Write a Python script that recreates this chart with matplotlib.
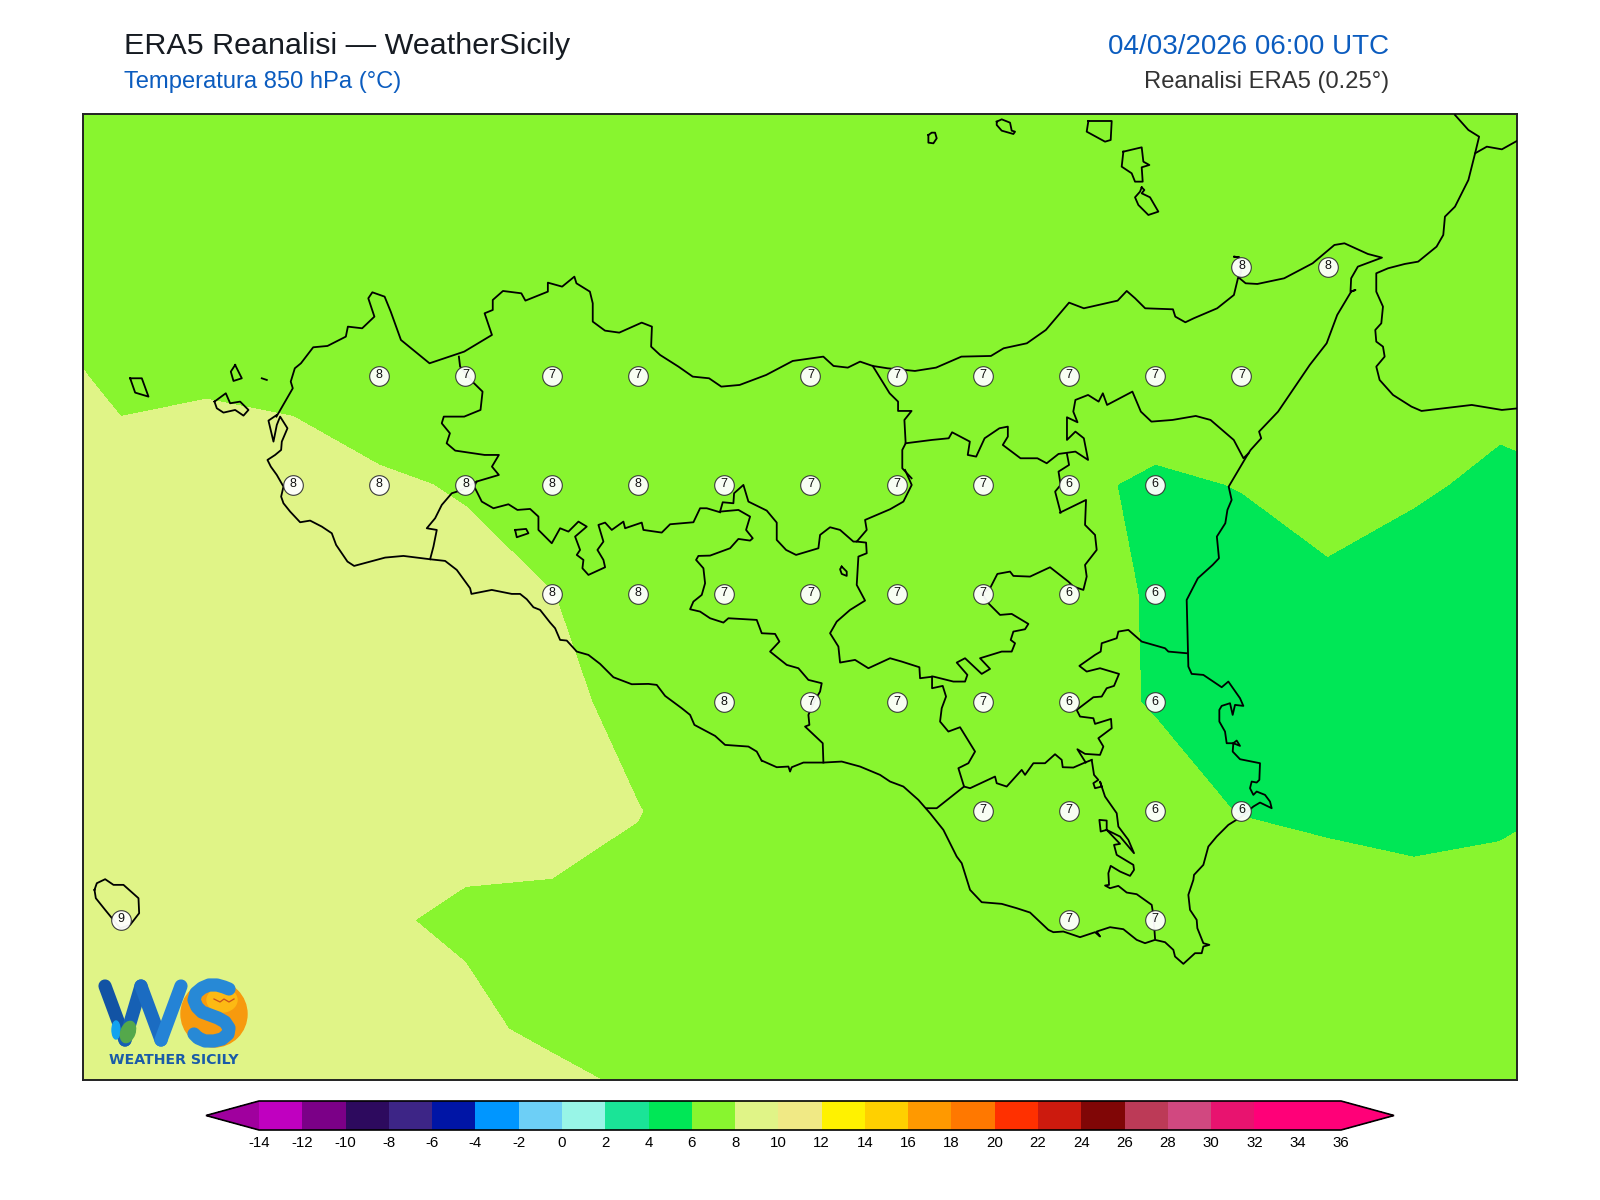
import numpy as np
import matplotlib
matplotlib.use("Agg")
import matplotlib.pyplot as plt
from matplotlib.colors import ListedColormap, BoundaryNorm
from matplotlib.patches import Circle, Ellipse

plt.rcParams['font.family'] = ['Liberation Sans', 'DejaVu Sans']

# ---------- temperature field, ERA5 0.25 degree grid ----------
grid_lon = [11.75, 12.0, 12.25, 12.5, 12.75, 13.0, 13.25, 13.5, 13.75, 14.0,
            14.25, 14.5, 14.75, 15.0, 15.25, 15.5, 15.75, 16.0, 16.25]
grid_lat = [38.75, 38.5, 38.25, 38.0, 37.75, 37.5, 37.25, 37.0, 36.75, 36.5, 36.25]
t_3875 = [7.7,7.7,7.7,7.6,7.6,7.6,7.5,7.5,7.5,7.5,7.4,7.4,7.4,7.4,7.3,7.3,7.2,7.2,7.1]
t_3850 = [7.8,7.7,7.6,7.6,7.5,7.5,7.5,7.5,7.4,7.4,7.4,7.4,7.4,7.4,7.4,7.3,7.2,7.1,7.0]
t_3825 = [7.9,7.7,7.6,7.6,7.5,7.4,7.4,7.4,7.4,7.4,7.4,7.4,7.4,7.5,7.55,7.5,7.2,7.0,6.9]
t_3800 = [8.29,7.82,7.9,7.85,7.7,7.4,7.3,7.2,7.1,7.0,7.0,6.9,6.9,6.6,6.6,6.8,6.8,6.1,6.1]
t_3775 = [8.4,8.3,8.365,8.25,8.065,7.96,7.6,7.55,7.4,7.2,7.1,6.8,6.175,5.86,6.03,6.25,6.04,5.94,5.995]
t_3750 = [8.6,8.6,8.6,8.5,8.4,8.16,8.01,7.7,7.45,7.2,7.0,6.7,6.2,5.95,5.6,5.87,5.85,5.8,5.8]
t_3725 = [8.6,8.6,8.6,8.6,8.5,8.4,8.3,7.66,7.55,7.2,7.1,6.8,6.3,5.94,5.7,5.75,5.7,5.7,5.7]
t_3700 = [8.7,8.7,8.7,8.6,8.5,8.32,8.32,8.03,7.5,7.3,7.0,6.9,6.8,6.37,5.96,5.85,5.7,5.9,6.07]
t_3675 = [8.7,8.6,8.5,8.3,8.1,7.856,7.8,7.7,7.5,7.3,7.2,7.1,6.9,6.6,6.8,6.45,6.41,6.26,6.2]
t_3650 = [8.8,8.7,8.6,8.5,8.4,8.225,7.775,7.7,7.6,7.5,7.4,7.3,7.2,7.1,7.0,6.9,6.8,6.7,6.6]
t_3625 = [8.9,8.9,8.9,8.9,8.9,8.9,8.8,8.16,7.9,7.7,7.6,7.5,7.4,7.3,7.2,7.1,7.0,6.9,6.8]

# ---------- rounded values printed at grid points (lon, lat, value) ----------
lab_3825 = [(15.25,8),(15.5,8)]
lab_3800 = [(12.75,8),(13.0,7),(13.25,7),(13.5,7),(14.0,7),(14.25,7),(14.5,7),(14.75,7),(15.0,7),(15.25,7)]
lab_3775 = [(12.5,8),(12.75,8),(13.0,8),(13.25,8),(13.5,8),(13.75,7),(14.0,7),(14.25,7),(14.5,7),(14.75,6),(15.0,6)]
lab_3750 = [(13.25,8),(13.5,8),(13.75,7),(14.0,7),(14.25,7),(14.5,7),(14.75,6),(15.0,6)]
lab_3725 = [(13.75,8),(14.0,7),(14.25,7),(14.5,7),(14.75,6),(15.0,6)]
lab_3700 = [(14.5,7),(14.75,7),(15.0,6),(15.25,6)]
lab_3675 = [(12.0,9),(14.75,7),(15.0,7)]

# ---------- colour scale ----------
levels = list(range(-14, 38, 2))
band_colors = ['#C000C0','#7B0087','#2D0A5E','#3D2586','#0015A6','#0096FF','#6DCFF6','#98F5E7',
               '#1AE497','#00E756','#88F52F','#E0F487','#F0E985','#FFF200','#FFD000','#FF9900',
               '#FF7800','#FF3000','#CC1A0E','#800606','#BC3A57','#D14880','#E8136F','#FF0078','#FF0078']
under_color = '#A0009E'
over_color = '#FF0078'

# ---------- digitised outlines: map sheet readings, georeferenced below ----------
def sheet(x0, y0, sx, sy, pts):
    a = np.array(pts, dtype=float)
    xo = x0 + a[:, 0] / sx
    yo = y0 + a[:, 1] / sy
    return np.column_stack([12.5 + (xo - 292.9) / 86.23 * 0.25,
                            37.75 - (yo - 484.7) / 108.9 * 0.25])

S3 = (260, 260, 2.45, 3)
S4 = (860, 230, 2.368, 3)
S5 = (260, 480, 3, 3)
S6 = (660, 470, 3, 3)
S7 = (920, 600, 3, 3)
S8 = (1120, 110, 2.985, 3)
S9 = (900, 110, 3, 3)
S10 = (80, 350, 3, 3)
S11 = (85, 860, 3, 3)

coast = np.vstack([
    sheet(*S10, [(590,195),(565,212),(580,275),(590,225),(600,200),(622,235),(605,275),(603,300),
                 (585,315),(562,330),(572,350),(590,375),(610,410),(603,440)]),
    sheet(*S5, [(70,70),(90,95),(120,127),(150,122),(185,140),(215,160),(228,195),(262,245),(282,258),
                (375,233),(430,228),(510,238),(555,243),(590,270),(630,325),(634,342),(660,337),(695,330),
                (755,342),(780,342),(800,358),(820,382),(840,390),(870,428),(885,445),(900,480),(920,482),
                (950,515),(985,525),(1020,552),(1060,592),(1115,613),(1165,612),(1190,615),(1215,648),
                (1265,685),(1290,705),(1303,735),(1365,768),(1395,795),(1465,800),(1490,815),(1505,843)]),
    sheet(*S6, [(305,872),(350,892),(385,890),(390,905),(395,892),(430,878),(490,878),(545,875),(600,890),
                (660,915),(690,935),(730,950),(775,990)]),
    sheet(*S7, [(30,640),(70,690),(110,770),(125,790),(150,870),(185,907),(245,912),(290,925),(330,938),
                (385,990),(400,997),(430,995),(480,1012),(525,997),(540,1010),(530,995),(570,982),(610,988),
                (650,1020),(675,1030),(705,1020),(735,1027),(760,1050),(765,1070),(790,1092),(825,1060),
                (845,1060),(850,1040),(868,1035),(850,1030),(832,985),(830,960),(810,930),(805,885),(820,840),
                (822,825),(850,795),(865,740),(890,710),(925,675),(965,650),(1000,620),(1020,608),(1055,625),
                (1050,605),(1035,585),(1010,575),(1000,585),(990,565),(995,545),(1010,548),(1018,540),(1020,490),
                (985,483),(960,478),(938,455),(940,430),(950,422),(960,438),(940,430),(920,430),(915,395),
                (898,365),(898,330),(905,318),(930,310),(938,345),(945,315),(970,318),(960,295),(925,245),
                (905,262),(880,245),(850,225),(815,222),(805,200),(800,0)]),
    sheet(*S4, [(800,1045),(835,1005),(850,985),(845,920),(865,880),(870,840),(880,810),(873,770),(915,680),
                (925,660),(950,625),(945,605),(990,545),(1065,405),(1105,340),(1130,255)]),
    sheet(*S8, [(690,545),(703,540),(688,545),(690,505),(710,470),(782,443),(740,432),(670,400),
                (640,405),(575,460),(490,505),(410,522),(375,520),(357,505),(362,480),(355,442),(340,440),
                (355,442),(362,480),(352,505),(340,555),(290,595),(220,625),(195,637),(165,620),(158,598),
                (75,595),(45,565),(20,543)]),
    sheet(*S4, [(610,212),(530,235),(495,218),(440,300),(395,340),(340,355),(310,378),(240,380),(180,413),
                (130,423),(65,415),(30,408)]),
    sheet(*S3, [(1470,305),(1440,323),(1405,318),(1380,290),(1305,303),(1240,345),(1175,375),(1130,380),
                (1100,355),(1060,350),(1025,320),(980,285),(958,260),(960,200),(935,188),(880,218),(845,212),
                (815,185),(815,130),(808,95),(775,70),(770,50),(740,80),(705,68),(705,95),(650,122),(640,100),
                (595,93),(570,120),(570,150),(550,160),(568,225),(500,275),(415,310),(395,290),(345,240),
                (320,155),(305,110),(275,97),(265,115),(280,170),(250,205),(215,200),(210,230),(165,258),
                (130,262),(100,310),(85,325),(75,365),(80,385),(40,470)]),
])

borders = [
    # Trapani - Palermo
    sheet(*S3, [(487,290),(490,320),(520,365),(545,395),(540,450),(500,470),(450,470),(445,490),(465,520),
                (457,550),(478,572),(550,585),(585,585),(568,620),(585,645),(530,665),(525,680)]),
    # Trapani - Agrigento
    sheet(*S5, [(650,5),(600,32),(575,40),(545,75),(525,115),(500,145),(530,150),(520,200),(510,238)]),
    # Palermo - Agrigento
    sheet(*S5, [(645,25),(665,65),(700,85),(745,73),(772,90),(810,87),(835,110),(835,150),(875,190),(900,145),
                (925,155),(955,125),(980,140),(945,170),(960,210),(950,225),(970,240),(967,265),(985,285),
                (1035,262),(1030,240),(1012,210),(1030,185),(1015,135),(1035,128),(1055,150),(1090,125),
                (1095,145),(1145,128),(1150,150),(1205,158),(1230,133),(1300,127),(1320,85),(1340,85),(1380,97)]),
    # Agrigento - Caltanissetta
    sheet(*S6, [(180,125),(235,120),(270,140),(258,180),(278,205),(270,212),(235,207),(210,235),(150,257),
                (115,258),(108,270),(130,295),(135,340),(125,375),(100,395),(90,418),(120,425),(150,445),
                (190,458),(205,445),(290,450),(305,490),(345,492),(358,515),(330,545),(380,585),(415,595),
                (445,630),(485,640),(480,665),(465,690),(445,735),(448,765),(435,770),(488,820),(490,878)]),
    sheet(*S6, [(180,125),(188,97),(220,100),(222,70),(250,45),(265,95),(320,122),(350,158),(350,210),(378,240),
                (408,255),(475,235),(480,195),(510,172),(540,180),(580,215),(590,215),(620,180),(615,150),
                (690,118),(730,95),(755,45),(735,0)]),
    # Palermo - Messina
    sheet(*S4, [(30,408),(70,490),(90,515),(90,543),(122,543),(105,570),(108,640),(100,660),(100,715),(122,745)]),
    # Messina - Enna - Catania
    sheet(*S4, [(108,640),(170,630),(210,625),(218,607),(260,635),(255,675),(275,680),(295,625),(330,595),
                (350,590),(350,620),(338,645),(380,685),(420,685),(442,700),(470,672),(510,665),(540,690),
                (530,625),(510,605),(490,630),(490,562),(515,577),(505,545),(510,510),(540,495),(565,515),
                (575,490),(585,525),(645,485),(665,545),(690,575),(740,570),(795,558),(830,570),(885,630),
                (908,685),(920,670)]),
    sheet(*S4, [(490,672),(495,705),(470,725),(475,765),(462,785),(475,848)]),
    sheet(*S6, [(1200,128),(1278,90),(1275,165),(1305,195),(1310,240),(1275,285),(1280,320),(1270,360),(1240,350),
                (1225,335),(1170,292),(1110,320),(1060,318),(1050,305),(1012,312),(990,355),(965,370),(985,400),
                (1020,435),(1055,432),(1105,462),(1095,478),(1060,485),(1052,510),(1065,520),(1055,545),(1025,545),
                (960,565),(990,597),(965,612),(915,565),(890,578),(922,615),(915,635),(880,635),(820,620),(780,625),
                (778,592),(725,575),(690,565),(625,595),(585,570),(540,578),(535,530),(510,490),(530,455),(570,420),
                (615,392),(590,345),(595,260),(620,250),(618,218),(590,215)]),
    # Caltanissetta - Catania
    sheet(*S7, [(36,230),(36,265),(68,258),(78,290),(65,325),(60,365),(85,395),(120,382),(165,455),(145,490),
                (115,505),(132,560),(50,625),(20,625)]),
    # Catania - Ragusa
    sheet(*S7, [(132,560),(150,565),(225,530),(230,550),(260,560),(305,510),(315,525),(340,490),(375,490),
                (405,463),(425,480),(428,502),(460,503),(490,490),(515,480)]),
    # Catania - Siracusa
    sheet(*S7, [(497,488),(472,448),(495,462),(540,465),(550,440),(535,415),(575,385),(573,357),(525,372),(520,355),
                (480,350),(470,330),(520,292),(545,290),(560,265),(582,258),(597,222),(540,205),(500,215),
                (478,198),(525,165),(542,155),(545,130),(590,115),(595,95),(625,90),(665,125),(735,145),
                (745,155),(800,160)]),
    # Ragusa - Siracusa
    sheet(*S7, [(515,480),(522,525),(535,540),(520,550),(525,565),(545,560),(540,545),(555,590),(590,640),
                (595,680),(625,720),(642,760),(600,710),(560,690),(542,695),(538,660),(560,662),(560,690),
                (600,732),(582,735),(590,765),(640,795),(642,810),(630,828),(600,815),(572,798),(565,820),
                (567,855),(555,857),(570,865),(595,858),(620,878),(650,883),(695,915),(700,945),(705,1015)]),
]

islands = [
    sheet(*S10, [(150,85),(185,85),(205,140),(165,128),(150,85)]),
    sheet(*S10, [(465,45),(485,85),(460,93),(452,65),(465,45)]),
    sheet(*S10, [(545,85),(560,90)]),
    sheet(*S10, [(403,155),(437,130),(450,160),(480,155),(505,180),(490,197),(465,180),(430,188),(410,175),(403,155)]),
    sheet(*S11, [(28,90),(35,70),(60,58),(85,75),(115,75),(160,115),(162,160),(135,195),(105,205),(60,150),(32,115),(28,90)]),
    sheet(*S9, [(85,75),(95,68),(105,68),(110,85),(100,100),(85,98),(85,75)]),
    sheet(*S9, [(290,35),(305,28),(330,38),(335,62),(345,65),(340,72),(305,62),(290,45),(290,35)]),
    sheet(*S9, [(565,33),(635,33),(632,90),(615,95),(560,65),(565,33)]),
    sheet(*S9, [(670,125),(725,112),(730,155),(748,165),(725,172),(728,215),(705,215),(695,190),(665,170),(670,125)]),
    sheet(*S9, [(725,232),(733,240),(725,250),(750,262),(775,305),(745,315),(715,285),(705,262),(720,245),(725,232)]),
    sheet(*S5, [(765,150),(798,147),(805,160),(770,172),(765,150)]),
    sheet(*S6, [(545,290),(560,305),(560,318),(545,312),(540,298),(545,290)]),
]

calabria = [
    sheet(*S8, [(1000,15),(1040,60),(1072,80),(1060,130),(1040,210),(1000,290),(970,320),(965,375),(945,410),
                (890,455),(850,462),(800,475),(765,490),(765,545),(785,590),(780,640),(762,660),(765,695),
                (785,710),(790,740),(765,770),(775,810),(815,855),(870,890),(900,903),(1050,885),(1140,900),(1190,895)]),
    sheet(*S8, [(1060,130),(1095,110),(1140,118),(1190,90)]),
]

# ---------- figure ----------
fig = plt.figure(figsize=(16, 12), dpi=100, facecolor='white')
W, H = 1600.0, 1200.0
ax = fig.add_axes([83 / W, 1 - 1080 / H, (1517 - 83) / W, (1080 - 114) / H])

cmap = ListedColormap(band_colors)
cmap.set_under(under_color)
cmap.set_over(over_color)
norm = BoundaryNorm(levels, cmap.N)
field = np.array([t_3875, t_3850, t_3825, t_3800, t_3775, t_3750, t_3725, t_3700, t_3675, t_3650, t_3625])
cf = ax.contourf(grid_lon, grid_lat, field, levels=levels, cmap=cmap, norm=norm, extend='both', antialiased=False)

for line in [coast] + borders + islands + calabria:
    ax.plot(line[:, 0], line[:, 1], color='black', lw=1.3, solid_joinstyle='round', zorder=3)

for lat, row in zip([38.25, 38.0, 37.75, 37.5, 37.25, 37.0, 36.75],
                    [lab_3825, lab_3800, lab_3775, lab_3750, lab_3725, lab_3700, lab_3675]):
    for lon, val in row:
        ax.scatter([lon], [lat], s=200, facecolor='white', edgecolor='#333333', linewidth=0.8, alpha=0.95, zorder=4)
        ax.text(lon, lat + 0.002, str(val), ha='center', va='center', fontsize=9, color='#111111', zorder=5)

ax.set_xlim(11.891, 16.049)
ax.set_ylim(36.383, 38.601)
ax.set_xticks([])
ax.set_yticks([])
for sp in ax.spines.values():
    sp.set_linewidth(1.4)
    sp.set_color('#222222')

# colour bar (the axes spans tip to tip, the extensions sit inside it)
cax = fig.add_axes([206 / W, 1 - 1130 / H, (1394 - 206) / W, 29 / H])
cb = fig.colorbar(cf, cax=cax, orientation='horizontal', extend='both',
                  extendfrac=53 / 1082, drawedges=False, spacing='uniform')
cb.ax.tick_params(length=0, labelsize=10.8, pad=4)
cb.outline.set_linewidth(1.2)
cb.outline.set_edgecolor('black')
cb.set_ticks(levels)
cb.set_ticklabels([str(v) for v in levels])

# titles
fig.text(124 / W, 1 - 46 / H, 'ERA5 Reanalisi \u2014 WeatherSicily', fontsize=21.95, color='#161b22', va='center', ha='left')
fig.text(124 / W, 1 - 82 / H, 'Temperatura 850 hPa (\u00b0C)', fontsize=17.1, color='#0b5cbf', va='center', ha='left')
fig.text(1389 / W, 1 - 47 / H, '04/03/2026 06:00 UTC', fontsize=20, color='#0b5cbf', va='center', ha='right')
fig.text(1389 / W, 1 - 82 / H, 'Reanalisi ERA5 (0.25\u00b0)', fontsize=17.1, color='#333333', va='center', ha='right')

# logo
lg = fig.add_axes([0, 0, 1, 1], facecolor='none')
lg.set_xlim(0, W)
lg.set_ylim(H, 0)
lg.axis('off')
lg.add_patch(Circle((214, 1014), 33, color='#F79A0E', zorder=1))
lg.add_patch(Ellipse((222, 1000), 30, 24, color='#FDB913', zorder=1))
lg.plot([105, 125], [986, 1040], color='#1253A4', lw=9.5, solid_capstyle='round', zorder=2)
lg.plot([125, 141], [1040, 986], color='#1660B4', lw=9.5, solid_capstyle='round', zorder=2)
lg.plot([141, 161], [986, 1040], color='#1B6CC2', lw=9.5, solid_capstyle='round', zorder=2)
lg.plot([161, 181], [1040, 986], color='#2483D6', lw=9.5, solid_capstyle='round', zorder=2)
lg.add_patch(Ellipse((128, 1032), 14, 22, angle=20, color='#54A84B', zorder=3))
lg.add_patch(Ellipse((116, 1030), 8, 18, color='#11A3F0', zorder=2.5))
lg.plot([229, 224, 217, 209, 202, 196, 194, 197, 202, 210, 218, 225, 229, 228, 222, 214, 205, 198, 194],
        [989, 987, 985, 985, 988, 993, 1000, 1007, 1012, 1015, 1018, 1022, 1028, 1034, 1039, 1041, 1041, 1038, 1034],
        color='#2789D6', lw=9.5, solid_capstyle='round', solid_joinstyle='round', zorder=4)
lg.plot([214, 220, 224, 229, 234], [999, 1002, 999, 1002, 999], color='#C9501A', lw=0.9, zorder=5)
lg.text(174, 1060, 'WEATHER SICILY', fontsize=10.2, fontweight='bold', color='#1a5ba8',
        family='DejaVu Sans', ha='center', va='center', zorder=4)

fig.savefig('out.png', dpi=100, facecolor='white')
